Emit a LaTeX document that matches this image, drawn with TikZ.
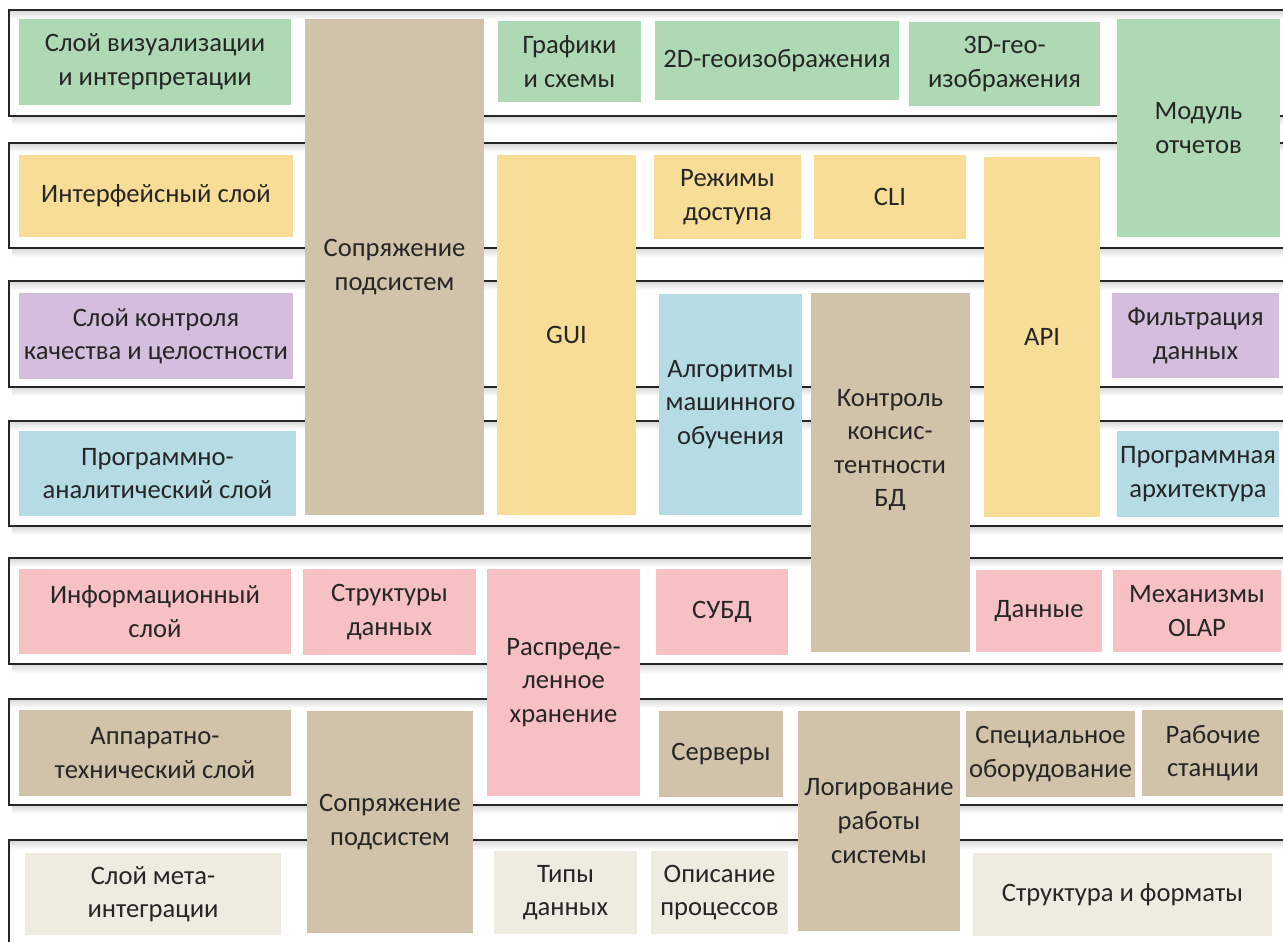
\documentclass[tikz,border=0pt]{standalone}
\usepackage{fontspec}
\setmainfont{Carlito}
\usetikzlibrary{positioning}

\definecolor{cgreen}{HTML}{AFD8B4}
\definecolor{cyellow}{HTML}{F8DD97}
\definecolor{ctan}{HTML}{D0C3A9}
\definecolor{cviolet}{HTML}{D4BEDD}
\definecolor{cblue}{HTML}{B5DCE5}
\definecolor{cpink}{HTML}{F7C0C4}
\definecolor{cbeige}{HTML}{EEEBE0}
\definecolor{ctext}{HTML}{262626}

\tikzset{
  blk/.style={inner sep=0pt, align=center, text=ctext,
    font=\fontsize{13.3}{16.8}\selectfont},
  bandline/.style={draw=ctext, line width=1.1pt},
  bandshade/.style={top color=black!16, bottom color=white, draw=none}
}

% box: name, x1, y1, x2, y2, colour, text
\newcommand\layerbox[7]{%
  \node[blk, fill=#6, minimum width={(#4-#2)*0.5pt},
    minimum height={(#5-#3)*0.5pt}] (#1) at ({(#2+#4)/2},{(#3+#5)/2}) {#7};
}

\begin{document}
\begin{tikzpicture}[x=0.5pt, y=-0.5pt]
  \useasboundingbox (0,0) rectangle (1283,941);
  \clip (0,0) rectangle (1283,941);

  % layer bands
  \foreach \yt/\yb in {10/116, 143/248, 281/387, 421/526, 558/664, 699/805, 840/960} {
    \fill[bandshade] (10,\yt) rectangle (1300,\yt+9);
    \fill[bandshade] (12,\yb) rectangle (1300,\yb+9);
    \draw[bandline] (1300,\yt) -| (9,\yb) -- (1300,\yb);
  }

  % visualisation
  \layerbox{vis}{19}{19}{291}{105}{cgreen}{Слой визуализации\\и интерпретации}
  \layerbox{sopr}{305}{19}{484}{515}{ctan}{Сопряжение\\подсистем}
  \layerbox{graph}{498}{21}{641}{102}{cgreen}{Графики\\и схемы}
  \layerbox{geo2d}{655}{21}{899}{100}{cgreen}{2D-геоизображения}
  \layerbox{geo3d}{909}{22}{1100}{106}{cgreen}{3D-гео-\\изображения}
  \layerbox{report}{1117}{19}{1280}{237}{cgreen}{Модуль\\отчетов}

  % interface
  \layerbox{iface}{19}{155}{293}{237}{cyellow}{Интерфейсный слой}
  \layerbox{gui}{497}{155}{636}{515}{cyellow}{GUI}
  \layerbox{access}{654}{155}{801}{239}{cyellow}{Режимы\\доступа}
  \layerbox{cli}{814}{155}{966}{239}{cyellow}{CLI}
  \layerbox{api}{984}{157}{1100}{517}{cyellow}{API}

  % quality
  \layerbox{quality}{19}{293}{293}{379}{cviolet}{Слой контроля\\качества и целостности}
  \layerbox{ml}{659}{294}{802}{515}{cblue}{Алгоритмы\\машинного\\обучения}
  \layerbox{ctrl}{811}{293}{970}{652}{ctan}{}
  \node[blk] (ctrltext) at (890,450) {Контроль\\консис-\\тентности\\БД};
  \layerbox{filter}{1112}{293}{1279}{378}{cviolet}{Фильтрация\\данных}

  % analytics
  \layerbox{analyt}{19}{431}{296}{516}{cblue}{Программно-\\аналитический слой}
  \layerbox{arch}{1117}{431}{1279}{517}{cblue}{Программная\\архитектура}

  % information
  \layerbox{info}{19}{569}{291}{654}{cpink}{Информационный\\слой}
  \layerbox{struct}{303}{569}{476}{655}{cpink}{Структуры\\данных}
  \layerbox{distr}{487}{569}{640}{796}{cpink}{Распреде-\\ленное\\хранение}
  \layerbox{dbms}{656}{569}{788}{655}{cpink}{СУБД}
  \layerbox{data}{976}{570}{1102}{652}{cpink}{Данные}
  \layerbox{olap}{1113}{570}{1281}{652}{cpink}{Механизмы\\OLAP}

  % hardware
  \layerbox{hw}{19}{710}{291}{796}{ctan}{Аппаратно-\\технический слой}
  \layerbox{sopr2}{307}{711}{473}{933}{ctan}{Сопряжение\\подсистем}
  \layerbox{servers}{659}{711}{783}{797}{ctan}{Серверы}
  \layerbox{logging}{798}{711}{960}{931}{ctan}{Логирование\\работы\\системы}
  \layerbox{special}{966}{711}{1135}{797}{ctan}{Специальное\\оборудование}
  \layerbox{work}{1142}{710}{1284}{796}{ctan}{Рабочие\\станции}

  % meta-integration
  \layerbox{meta}{25}{853}{281}{935}{cbeige}{Слой мета-\\интеграции}
  \layerbox{types}{494}{851}{637}{934}{cbeige}{Типы\\данных}
  \layerbox{proc}{651}{851}{788}{934}{cbeige}{Описание\\процессов}
  \layerbox{formats}{973}{853}{1272}{936}{cbeige}{Структура и форматы}
\end{tikzpicture}
\end{document}
